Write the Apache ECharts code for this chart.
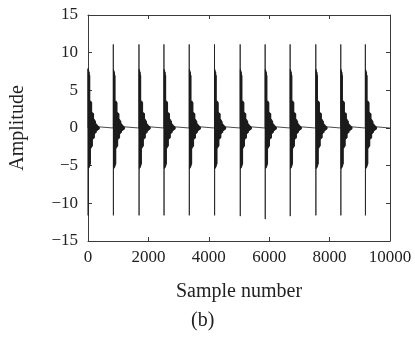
<!DOCTYPE html>
<html>
<head>
<meta charset="utf-8">
<script src="https://cdn.jsdelivr.net/npm/echarts@6/dist/echarts.min.js"></script>
<style>
html,body{margin:0;padding:0;background:#fff;}
#c{width:415px;height:345px;}
</style>
</head>
<body>
<div id="c"></div>
<script>
// Sample positions where each burst starts
const burstStarts = [0, 837, 1687, 2514, 3351, 4188, 5038, 5865, 6692, 7542, 8369, 9183];
// Positive spike of each burst
const burstTops = [7.9, 11.1, 11.1, 11.1, 11.1, 11.1, 11.1, 11.1, 11.1, 11.1, 11.1, 11.1];
// Negative spike of each burst
const burstBottoms = [-11.6, -11.6, -11.6, -11.6, -11.6, -11.6, -11.7, -12.1, -11.7, -11.6, -11.6, -11.6];
// Decaying ringing after the spikes: offsets (samples) and amplitudes
const ringOffsets = [8, 16, 24, 32, 40, 48, 56, 64, 72, 80, 88, 96, 104, 112, 120, 128, 136, 144, 152, 160, 168, 176, 184, 192, 200, 208, 216, 224, 232, 240, 248, 256, 264, 272, 280, 288, 296, 304, 312, 320, 328, 336, 344, 352, 360, 368, 376, 384, 392, 400];
const ringValues = [7.8, -5.4, 7.6, -5.3, 7.4, -5.2, 7.0, -5.0, 3.6, -4.8, 3.6, -2.7, 3.5, -2.6, 3.4, -2.5, 2.1, -2.4, 2.0, -1.5, 2.0, -1.4, 1.9, -1.4, 1.2, -1.3, 1.1, -0.8, 1.0, -0.7, 0.9, -0.6, 0.6, -0.6, 0.5, -0.4, 0.45, -0.35, 0.35, -0.3, 0.3, -0.25, 0.25, -0.2, 0.2, -0.15, 0.15, -0.1, 0.1, 0];
const xTicks = [0, 2000, 4000, 6000, 8000, 10000];
const yTicks = [-15, -10, -5, 0, 5, 10, 15];

const data = [];
for (let i = 0; i < burstStarts.length; i++) {
  const s = burstStarts[i];
  data.push([s, 0]);
  data.push([s + 1, burstTops[i]]);
  data.push([s + 4, burstBottoms[i]]);
  for (let k = 0; k < ringOffsets.length; k++) {
    data.push([s + ringOffsets[k], ringValues[k]]);
  }
}
data.push([10000, 0]);

const fmt = v => (v < 0 ? '\u2212' + Math.abs(v) : String(v));
const font = 'Liberation Serif';
const axisCol = '#3a3a3a';
const txtCol = '#222';

const chart = echarts.init(document.getElementById('c'), null, {renderer: 'canvas'});
chart.setOption({
  animation: false,
  backgroundColor: '#fff',
  grid: {left: 88, right: 25, top: 15, bottom: 104, containLabel: false},
  xAxis: [{
    type: 'value', min: xTicks[0], max: xTicks[xTicks.length - 1], interval: 2000,
    position: 'bottom',
    axisLine: {show: true, onZero: false, lineStyle: {color: axisCol, width: 1}},
    axisTick: {show: true, inside: true, length: 4, lineStyle: {color: axisCol}},
    axisLabel: {color: txtCol, fontFamily: font, fontSize: 17, margin: 8, formatter: fmt},
    splitLine: {show: false},
    name: 'Sample number', nameLocation: 'middle', nameGap: 41,
    nameTextStyle: {color: txtCol, fontFamily: font, fontSize: 20}
  }, {
    type: 'value', min: xTicks[0], max: xTicks[xTicks.length - 1], interval: 2000,
    position: 'top',
    axisLine: {show: true, onZero: false, lineStyle: {color: axisCol, width: 1}},
    axisTick: {show: true, inside: true, length: 4, lineStyle: {color: axisCol}},
    axisLabel: {show: false},
    splitLine: {show: false}
  }],
  yAxis: [{
    type: 'value', min: yTicks[0], max: yTicks[yTicks.length - 1], interval: 5,
    position: 'left',
    axisLine: {show: true, onZero: false, lineStyle: {color: axisCol, width: 1}},
    axisTick: {show: true, inside: true, length: 4, lineStyle: {color: axisCol}},
    axisLabel: {color: txtCol, fontFamily: font, fontSize: 17, margin: 10, formatter: fmt},
    splitLine: {show: false},
    name: 'Amplitude', nameLocation: 'middle', nameGap: 60,
    nameTextStyle: {color: txtCol, fontFamily: font, fontSize: 20}
  }, {
    type: 'value', min: yTicks[0], max: yTicks[yTicks.length - 1], interval: 5,
    position: 'right',
    axisLine: {show: true, onZero: false, lineStyle: {color: axisCol, width: 1}},
    axisTick: {show: true, inside: true, length: 4, lineStyle: {color: axisCol}},
    axisLabel: {show: false},
    splitLine: {show: false}
  }],
  graphic: [{
    type: 'text', left: 191, top: 311,
    style: {text: '(b)', fontFamily: font, fontSize: 20, fill: txtCol}
  }],
  series: [{
    type: 'line', xAxisIndex: 0, yAxisIndex: 0,
    data: data, showSymbol: false, symbol: 'none', sampling: 'none',
    lineStyle: {color: '#1a1a1a', width: 0.8}
  }]
});
</script>
</body>
</html>
